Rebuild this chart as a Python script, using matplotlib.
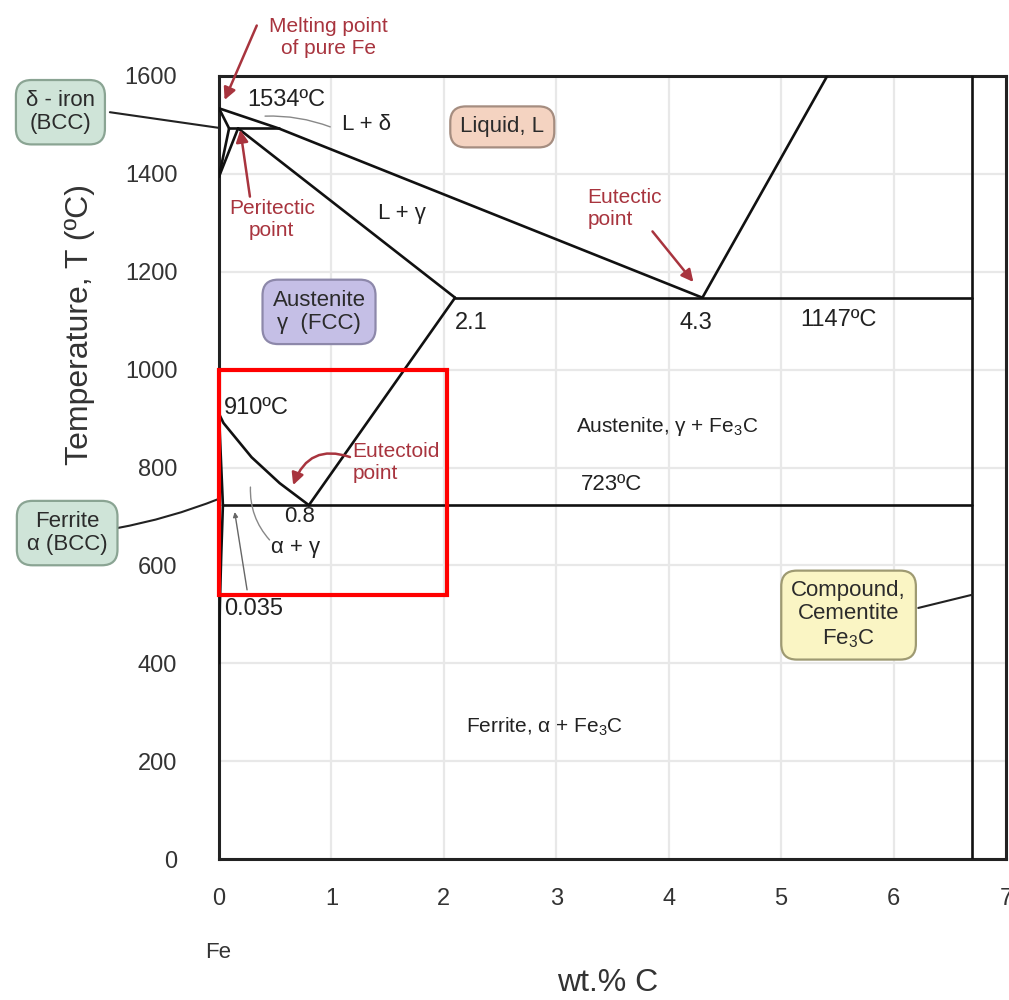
import matplotlib
matplotlib.use("Agg")
import matplotlib.pyplot as plt
from matplotlib.patches import Rectangle

plt.rcParams['font.family'] = ['Liberation Sans', 'DejaVu Sans']
plt.rcParams['mathtext.fontset'] = 'custom'
plt.rcParams['mathtext.rm'] = 'Liberation Sans'
plt.rcParams['mathtext.it'] = 'Liberation Sans:italic'
plt.rcParams['mathtext.default'] = 'regular'

# Phase boundaries: carbon content (wt.% C) and temperature (ºC)
liquidus_c = [0.0, 0.53, 4.3, 5.41]
liquidus_t = [1534, 1493, 1147, 1600]
delta_solidus_c = [0.0, 0.09]
delta_solidus_t = [1534, 1493]
delta_gamma_lo_c = [0.09, 0.0]
delta_gamma_lo_t = [1493, 1394]
delta_gamma_hi_c = [0.17, 0.0]
delta_gamma_hi_t = [1493, 1394]
peritectic_c = [0.09, 0.53]
peritectic_t = [1493, 1493]
gamma_solidus_c = [0.17, 2.1]
gamma_solidus_t = [1493, 1147]
eutectic_c = [2.1, 6.7]
eutectic_t = [1147, 1147]
acm_c = [0.8, 2.1]
acm_t = [723, 1147]
a3_c = [0.0, 0.04, 0.29, 0.54, 0.8]
a3_t = [910, 891, 821, 768, 723]
alpha_upper_c = [0.0, 0.035]
alpha_upper_t = [910, 723]
alpha_solvus_c = [0.035, 0.02, 0.008, 0.0]
alpha_solvus_t = [723, 620, 520, 400]
eutectoid_c = [0.035, 6.7]
eutectoid_t = [723, 723]
cementite_c = [6.7, 6.7]
cementite_t = [0, 1600]

# Highlighted region (eutectoid corner)
highlight_c = [0.0, 2.03]
highlight_t = [540, 1000]

x_ticks = [0, 1, 2, 3, 4, 5, 6, 7]
y_ticks = [0, 200, 400, 600, 800, 1000, 1200, 1400, 1600]

RED = '#a8343e'
INK = '#222222'

fig = plt.figure(figsize=(10.09, 10.0), dpi=100)
ax = fig.add_axes([0.217, 0.141, 0.780, 0.783])
ax.set_xlim(0, 7)
ax.set_ylim(0, 1600)
ax.set_xticks(x_ticks)
ax.set_yticks(y_ticks)
ax.set_xticklabels([str(v) for v in x_ticks])
ax.set_yticklabels([str(v) for v in y_ticks])
ax.tick_params(axis='both', length=0, labelsize=17, colors='#333333')
ax.tick_params(axis='y', pad=30)
ax.tick_params(axis='x', pad=21)
ax.grid(True, color='#e8e8e8', lw=1.6)
ax.set_axisbelow(True)
for s in ax.spines.values():
    s.set_linewidth(2.2)
    s.set_color(INK)

boundaries = [
    (liquidus_c, liquidus_t), (delta_solidus_c, delta_solidus_t),
    (delta_gamma_lo_c, delta_gamma_lo_t), (delta_gamma_hi_c, delta_gamma_hi_t),
    (peritectic_c, peritectic_t), (gamma_solidus_c, gamma_solidus_t),
    (eutectic_c, eutectic_t), (acm_c, acm_t), (a3_c, a3_t),
    (alpha_upper_c, alpha_upper_t), (alpha_solvus_c, alpha_solvus_t),
    (eutectoid_c, eutectoid_t), (cementite_c, cementite_t),
]
for c, t in boundaries:
    ax.plot(c, t, color='#111111', lw=1.9, solid_capstyle='round', zorder=3)

ax.add_patch(Rectangle((highlight_c[0], highlight_t[0]),
                       highlight_c[1] - highlight_c[0],
                       highlight_t[1] - highlight_t[0],
                       fill=False, edgecolor='#ff0000', lw=3.0, zorder=5,
                       clip_on=False))

# Plain labels
def label(x, y, s, size=16, ha='center', color=INK, **kw):
    ax.text(x, y, s, fontsize=size, ha=ha, va='center', color=color,
            clip_on=False, zorder=6, **kw)

label(0.25, 1550, '1534ºC', size=17, ha='left')
label(1.31, 1500, 'L + δ', size=16)
label(1.63, 1320, 'L + γ', size=16)
label(2.24, 1095, '2.1', size=17)
label(4.24, 1095, '4.3', size=17)
label(5.51, 1101, '1147ºC', size=17)
label(0.04, 921, '910ºC', size=17, ha='left')
label(0.72, 699, '0.8', size=16)
label(0.68, 636, 'α + γ', size=16)
label(0.05, 511, '0.035', size=17, ha='left')
label(3.99, 883, 'Austenite, γ + Fe$_3$C', size=15)
label(3.49, 766, '723ºC', size=16)
label(2.90, 270, 'Ferrite, α + Fe$_3$C', size=15)

# Red callouts with arrows
ax.annotate('Melting point\nof pure Fe', xy=(0.05, 1551), xytext=(0.97, 1678),
            fontsize=15, color=RED, ha='center', va='center',
            annotation_clip=False, zorder=7,
            arrowprops=dict(arrowstyle='-|>', color=RED, lw=1.8,
                            mutation_scale=18, shrinkA=0, shrinkB=0,
                            relpos=(-0.1, 0.8)))
ax.annotate('Peritectic\npoint', xy=(0.19, 1490), xytext=(0.47, 1306),
            fontsize=15, color=RED, ha='center', va='center',
            annotation_clip=False, zorder=7,
            arrowprops=dict(arrowstyle='-|>', color=RED, lw=1.8,
                            mutation_scale=18, shrinkA=0, shrinkB=0,
                            relpos=(0.25, 1.0)))
ax.annotate('Eutectic\npoint', xy=(4.22, 1179), xytext=(3.28, 1330),
            fontsize=15, color=RED, ha='left', va='center',
            annotation_clip=False, zorder=7,
            arrowprops=dict(arrowstyle='-|>', color=RED, lw=1.8,
                            mutation_scale=18, shrinkA=0, shrinkB=0,
                            relpos=(0.75, 0.2)))
ax.annotate('Eutectoid\npoint', xy=(0.66, 764), xytext=(1.19, 811),
            fontsize=15, color=RED, ha='left', va='center',
            annotation_clip=False, zorder=7,
            arrowprops=dict(arrowstyle='-|>', color=RED, lw=1.8,
                            mutation_scale=18, shrinkA=0, shrinkB=0,
                            relpos=(0.0, 0.6),
                            connectionstyle='arc3,rad=0.5'))

# Thin grey leaders
grey = dict(arrowstyle='-', color='#888888', lw=1.0, shrinkA=0, shrinkB=0)
ax.annotate('', xy=(0.41, 1518), xytext=(0.99, 1496),
            arrowprops=dict(grey, connectionstyle='arc3,rad=0.1'))
ax.annotate('', xy=(0.28, 760), xytext=(0.45, 652),
            arrowprops=dict(grey, connectionstyle='arc3,rad=-0.2'))
ax.annotate('', xy=(0.14, 709), xytext=(0.25, 550),
            arrowprops=dict(arrowstyle='-|>', color='#666666', lw=1.0,
                            mutation_scale=7, shrinkA=0, shrinkB=0))

# Phase boxes
def phase_box(x, y, s, face, edge, size=16):
    ax.text(x, y, s, fontsize=size, ha='center', va='center', color='#2b2b2b',
            linespacing=1.15, clip_on=False, zorder=8,
            bbox=dict(boxstyle='round,pad=0.45,rounding_size=0.7',
                      facecolor=face, edgecolor=edge, lw=1.6))

phase_box(2.52, 1496, 'Liquid, L', '#f4d3c1', '#a58d80')
phase_box(0.89, 1118, 'Austenite\nγ  (FCC)', '#c5bfe6', '#8d88aa')
phase_box(5.60, 499, 'Compound,\nCementite\nFe$_3$C', '#faf5c4', '#9e9a72')
phase_box(-1.41, 1526, 'δ - iron\n(BCC)', '#cfe4d8', '#8aa493')
phase_box(-1.35, 666, 'Ferrite\nα (BCC)', '#cfe4d8', '#8aa493')

# Box leaders
lead = dict(arrowstyle='-', color='#222222', lw=1.5, shrinkA=0, shrinkB=0)
ax.annotate('', xy=(0.0, 1494), xytext=(-0.97, 1526),
            arrowprops=lead, annotation_clip=False)
ax.annotate('', xy=(0.0, 736), xytext=(-0.91, 676),
            arrowprops=dict(lead, connectionstyle='arc3,rad=0.05'),
            annotation_clip=False)
ax.annotate('', xy=(6.7, 540), xytext=(6.22, 513),
            arrowprops=lead, annotation_clip=False)

# Axis titles
fig.text(80 / 1009, 1 - 324 / 1000, 'Temperature, T (ºC)', rotation=90,
         fontsize=23, ha='center', va='center', color='#333333')
fig.text(608 / 1009, 1 - 983 / 1000, 'wt.% C', fontsize=23,
         ha='center', va='center', color='#333333')
fig.text(218 / 1009, 1 - 952 / 1000, 'Fe', fontsize=16,
         ha='center', va='center', color='#333333')

fig.savefig('out.png', dpi=100, facecolor='white')
